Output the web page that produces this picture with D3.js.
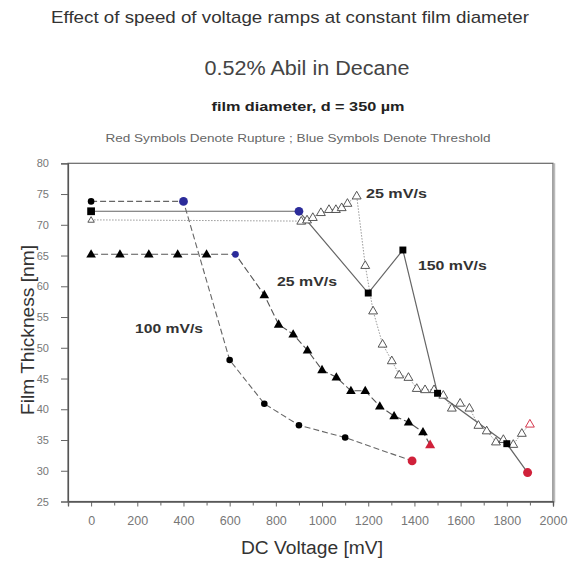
<!DOCTYPE html>
<html>
<head>
<meta charset="utf-8">
<script src="https://cdn.jsdelivr.net/npm/d3@7"></script>
<style>
  html, body { margin: 0; padding: 0; background: #fff; }
  svg { display: block; font-family: "Liberation Sans", Arial, sans-serif; }
</style>
</head>
<body>
<svg id="chart" width="569" height="563"></svg>
<script>
// Film thickness vs DC voltage for different ramp speeds
// each point: [voltage mV, thickness nm, state] ; state: "n" normal, "t" threshold (blue), "r" rupture (red)
const ramp100 = [
  [0, 73.8, "n"], [400, 73.8, "t"], [600, 48.0, "n"], [750, 40.9, "n"],
  [900, 37.4, "n"], [1100, 35.4, "n"], [1390, 31.6, "r"]
];
const ramp25a = [
  [0, 65.2, "n"], [125, 65.2, "n"], [250, 65.2, "n"], [375, 65.2, "n"], [500, 65.2, "n"],
  [625, 65.2, "t"], [750, 58.6, "n"], [812, 53.8, "n"], [875, 52.2, "n"], [937, 49.6, "n"],
  [1000, 46.4, "n"], [1062, 45.2, "n"], [1125, 43.0, "n"], [1187, 43.0, "n"], [1250, 40.5, "n"],
  [1312, 38.9, "n"], [1375, 37.9, "n"], [1437, 36.3, "n"], [1468, 34.2, "r"]
];
const ramp150 = [
  [0, 72.2, "n"], [900, 72.2, "t"], [1200, 58.9, "n"], [1350, 65.9, "n"],
  [1500, 42.6, "n"], [1800, 34.4, "n"], [1890, 29.7, "r"]
];
const ramp25b = [
  [0, 70.8, "n"], [910, 70.6, "n"], [935, 70.8, "n"], [960, 71.2, "n"], [995, 72.0, "n"],
  [1030, 72.5, "n"], [1060, 72.5, "n"], [1085, 72.8, "n"], [1110, 73.5, "n"], [1150, 74.7, "n"],
  [1187, 63.4, "n"], [1221, 56.0, "n"], [1262, 50.6, "n"], [1302, 47.9, "n"], [1334, 45.6, "n"],
  [1374, 45.2, "n"], [1410, 43.4, "n"], [1446, 43.2, "n"], [1485, 43.2, "n"], [1525, 42.3, "n"],
  [1562, 40.2, "n"], [1598, 41.0, "n"], [1638, 40.2, "n"], [1677, 37.4, "n"], [1713, 36.5, "n"],
  [1753, 34.7, "n"], [1785, 35.1, "n"], [1828, 34.3, "n"], [1865, 36.1, "n"], [1900, 37.6, "r"]
];

const xTicks = [0, 200, 400, 600, 800, 1000, 1200, 1400, 1600, 1800, 2000];
const xMinorTicks = [-100, 100, 300, 500, 700, 900, 1100, 1300, 1500, 1700, 1900];
const yTicks = [25, 30, 35, 40, 45, 50, 55, 60, 65, 70, 75, 80];

const titleText = "Effect of speed of voltage ramps at constant film diameter";
const subtitleText = "0.52% Abil in Decane";
const diameterText = "film diameter, d = 350 µm";
const noteText = "Red Symbols Denote Rupture ; Blue Symbols Denote Threshold";
const xLabel = "DC Voltage [mV]";
const yLabel = "Film Thickness [nm]";
// ramp-speed annotations, anchored in data units (left edge, baseline)
const seriesLabels = [
  { text: "25 mV/s", at: [1190, 74.4], len: 61 },
  { text: "150 mV/s", at: [1415, 62.6], len: 69 },
  { text: "25 mV/s", at: [805, 60.0], len: 60 },
  { text: "100 mV/s", at: [190, 52.4], len: 68 }
];

const svg = d3.select("#chart");
const L = 68, R = 553, T = 163.3, B = 501.5;

const x = d3.scaleLinear().domain([-100, 2000]).range([L, R]);
const y = d3.scaleLinear().domain([25, 80]).range([B, T]);

// header texts
function header(txt, cx, by, size, len, opts = {}) {
  svg.append("text").attr("x", cx).attr("y", by).attr("text-anchor", "middle")
    .attr("font-size", size).attr("fill", opts.fill || "#333")
    .attr("font-weight", opts.weight || "normal")
    .attr("textLength", len).attr("lengthAdjust", "spacingAndGlyphs")
    .text(txt);
}
header(titleText, 290, 23, 17, 478, { fill: "#333" });
header(subtitleText, 307, 75, 20, 205, { fill: "#444" });
header(diameterText, 308, 110.5, 12.5, 193, { fill: "#222", weight: "bold" });
header(noteText, 298, 141.5, 10.5, 385, { fill: "#666" });

// plot frame
svg.append("rect").attr("x", L).attr("y", T).attr("width", R - L).attr("height", B - T)
  .attr("fill", "none").attr("stroke", "#666").attr("stroke-width", 1.2);
svg.append("line").attr("x1", R + 1.5).attr("x2", R + 1.5).attr("y1", T).attr("y2", B + 1)
  .attr("stroke", "#bbb").attr("stroke-width", 1.5);

// axes
const yAxis = svg.append("g").attr("transform", `translate(${L},0)`)
  .call(d3.axisLeft(y).tickValues(yTicks).tickSize(7).tickPadding(12).tickFormat(d3.format("d")));
const xAxis = svg.append("g").attr("transform", `translate(0,${B})`)
  .call(d3.axisBottom(x).tickValues(xTicks).tickSize(5).tickPadding(10).tickFormat(d3.format("d")));
const xMinor = svg.append("g").attr("transform", `translate(0,${B})`)
  .call(d3.axisBottom(x).tickValues(xMinorTicks).tickSize(4).tickFormat(""));
[yAxis, xAxis, xMinor].forEach(g => {
  g.select(".domain").attr("stroke", "#555").attr("stroke-width", 1.2);
  g.selectAll(".tick line").attr("stroke", "#666");
  g.selectAll(".tick text").attr("fill", "#777")
    .attr("font-family", "Liberation Sans, Arial, sans-serif");
});
yAxis.selectAll(".tick text").attr("font-size", 11);
xAxis.selectAll(".tick text").attr("font-size", 12.5);

svg.append("text").attr("x", 312).attr("y", 554).attr("text-anchor", "middle")
  .attr("font-size", 18).attr("fill", "#333")
  .attr("textLength", 142).attr("lengthAdjust", "spacingAndGlyphs").text(xLabel);
svg.append("text").attr("transform", "translate(34,330) rotate(-90)").attr("text-anchor", "middle")
  .attr("font-size", 18).attr("fill", "#333")
  .attr("textLength", 170).attr("lengthAdjust", "spacingAndGlyphs").text(yLabel);

// lines
const line = d3.line().x(d => x(d[0])).y(d => y(d[1]));
const plot = svg.append("g");
plot.append("path").datum(ramp25b).attr("d", line).attr("fill", "none")
  .attr("stroke", "#999").attr("stroke-width", 1).attr("stroke-dasharray", "1.5,1.5");
plot.append("path").datum(ramp150).attr("d", line).attr("fill", "none")
  .attr("stroke", "#666").attr("stroke-width", 1.2);
plot.append("path").datum(ramp100).attr("d", line).attr("fill", "none")
  .attr("stroke", "#666").attr("stroke-width", 1.1).attr("stroke-dasharray", "6,3");
plot.append("path").datum(ramp25a).attr("d", line).attr("fill", "none")
  .attr("stroke", "#555").attr("stroke-width", 1.1).attr("stroke-dasharray", "7,3");

const colorOf = s => s === "t" ? "#2b2b9a" : s === "r" ? "#d0213a" : "#000";
const sym = (type, size) => d3.symbol().type(type).size(size)();

// hollow triangles (25 mV/s, second run)
plot.selectAll(".htri").data(ramp25b).join("path")
  .attr("transform", d => `translate(${x(d[0])},${y(d[1]) + 0.5})`)
  .attr("d", d => sym(d3.symbolTriangle, d[0] === 0 ? 18 : 34))
  .attr("fill", "#fff").attr("stroke", d => d[2] === "r" ? "#d0213a" : "#444").attr("stroke-width", 0.9);

// filled triangles (25 mV/s, first run); threshold drawn as a blue dot
plot.selectAll(".ftri").data(ramp25a).join("path")
  .attr("transform", d => `translate(${x(d[0])},${y(d[1]) + (d[2] === "t" ? 0 : 0.5)})`)
  .attr("d", d => d[2] === "t" ? sym(d3.symbolCircle, 36) : sym(d3.symbolTriangle, d[2] === "r" ? 44 : 40))
  .attr("fill", d => colorOf(d[2]));

// squares (150 mV/s)
plot.selectAll(".sq").data(ramp150).join("path")
  .attr("transform", d => `translate(${x(d[0])},${y(d[1])})`)
  .attr("d", d => d[2] === "n" ? sym(d3.symbolSquare, d[0] === 0 ? 60 : 48)
    : sym(d3.symbolCircle, d[2] === "t" ? 60 : 64))
  .attr("fill", d => colorOf(d[2]));

// circles (100 mV/s)
plot.selectAll(".circ").data(ramp100).join("circle")
  .attr("cx", d => x(d[0])).attr("cy", d => y(d[1]))
  .attr("r", d => d[2] === "n" ? 3.3 : 4.4)
  .attr("fill", d => colorOf(d[2]));

// series labels
plot.selectAll(".lbl").data(seriesLabels).join("text")
  .attr("x", d => x(d.at[0])).attr("y", d => y(d.at[1]))
  .attr("font-size", 13.5).attr("font-weight", "bold").attr("fill", "#333")
  .attr("textLength", d => d.len).attr("lengthAdjust", "spacingAndGlyphs")
  .text(d => d.text);
</script>
</body>
</html>
